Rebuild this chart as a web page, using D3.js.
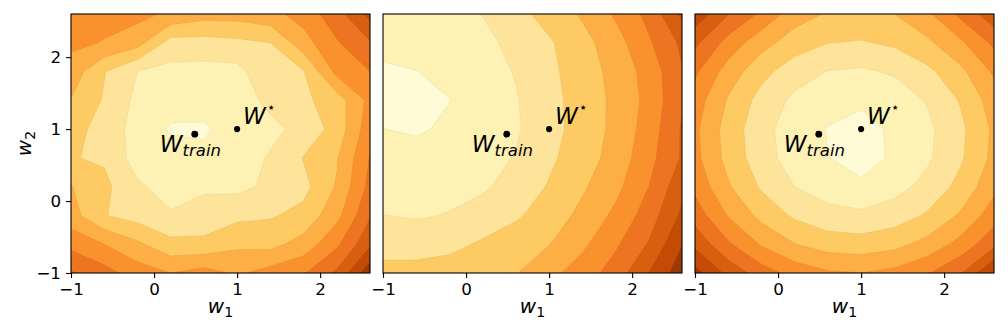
<!DOCTYPE html>
<html>
<head>
<meta charset="utf-8">
<script src="https://cdn.jsdelivr.net/npm/d3@7"></script>
<style>
body { margin: 0; background: #fff; }
text { font-family: "DejaVu Sans", sans-serif; }
</style>
</head>
<body>
<div id="chart"></div>
<script>
var width = 1008, height = 335;

// sample grid (rows run from top y=2.6 down to y=-1)
var xGrid = [-1, -0.6, -0.2, 0.2, 0.6, 1.0, 1.4, 1.8, 2.2, 2.6];
var yGrid = [2.6, 2.2, 1.8, 1.4, 1.0, 0.6, 0.2, -0.2, -0.6, -1.0];

// loss surface, left panel
var lossLeft = [
  [5.6, 5.3, 5.3, 4.8, 4.4, 4.4, 4.7, 5.4, 6.6, 8.3],
  [5.2, 4.95, 4.4, 2.6, 2.6, 2.75, 3.0, 4.6, 5.9, 6.9],
  [4.6, 3.05, 2.0, 1.7, 1.65, 1.7, 2.75, 2.95, 5.3, 6.0],
  [3.95, 2.9, 1.75, 1.3, 1.45, 1.55, 2.24, 2.8, 3.5, 5.3],
  [3.2, 2.8, 1.5, 0.92, 0.85, 1.48, 1.75, 2.3, 3.4, 5.6],
  [3.05, 2.87, 1.55, 1.35, 1.25, 1.45, 2.1, 3.05, 3.9, 6.05],
  [4.05, 3.25, 2.15, 1.6, 1.85, 1.75, 2.2, 2.7, 4.1, 6.3],
  [4.4, 3.05, 2.6, 2.1, 2.4, 2.75, 2.9, 3.3, 4.7, 6.9],
  [5.7, 5.0, 4.2, 3.3, 3.25, 3.8, 3.7, 4.4, 5.8, 7.8],
  [7.1, 6.4, 5.5, 5.0, 5.4, 4.85, 5.4, 5.9, 7.2, 9.7]
];

// loss surface, middle panel
var lossMid = [
  [1.5, 1.6, 1.75, 2.02, 2.68, 3.38, 4.13, 5.14, 6.29, 8.2],
  [1.3, 1.4, 1.55, 1.8, 2.22, 2.88, 3.65, 4.58, 5.86, 7.2],
  [0.85, 0.98, 1.3, 1.67, 2.05, 2.77, 3.5, 4.32, 5.4, 6.93],
  [0.7, 0.8, 0.98, 1.46, 1.93, 2.67, 3.43, 4.22, 5.29, 6.9],
  [1.02, 0.85, 1.2, 1.5, 1.88, 2.65, 3.4, 4.25, 5.45, 7.1],
  [1.4, 1.45, 1.6, 1.75, 2.04, 2.81, 3.54, 4.38, 5.68, 7.1],
  [1.55, 1.6, 1.72, 1.85, 2.41, 3.08, 3.86, 4.72, 6.0, 7.7],
  [2.02, 1.9, 2.05, 2.45, 2.86, 3.47, 4.26, 5.22, 6.48, 8.2],
  [2.69, 2.63, 2.75, 3.13, 3.55, 3.97, 4.8, 5.84, 7.08, 8.95],
  [3.25, 3.3, 3.45, 3.65, 3.95, 4.71, 5.48, 6.46, 8.0, 9.6]
];

// loss surface, right panel
var lossRight = [
  [8.66, 7.05, 5.80, 4.45, 3.9, 3.85, 4.0, 4.8, 6.26, 7.65],
  [7.23, 5.62, 4.37, 3.51, 3.02, 2.91, 3.17, 3.81, 4.83, 6.22],
  [6.18, 4.56, 3.32, 2.45, 1.97, 1.85, 2.12, 2.76, 3.77, 5.16],
  [5.50, 3.89, 2.64, 1.78, 1.30, 1.10, 1.44, 2.08, 3.09, 4.49],
  [5.20, 3.58, 2.34, 1.48, 0.96, 0.80, 1.10, 1.78, 2.79, 4.19],
  [5.28, 3.66, 2.42, 1.55, 1.02, 0.75, 1.10, 1.85, 2.87, 4.26],
  [5.73, 4.11, 2.87, 2.00, 1.51, 1.12, 1.66, 2.30, 3.32, 4.71],
  [6.56, 4.94, 3.70, 2.83, 2.34, 2.23, 2.49, 3.13, 4.15, 5.54],
  [7.76, 6.14, 4.90, 4.03, 3.55, 3.43, 3.70, 4.34, 5.35, 6.74],
  [9.34, 7.72, 6.48, 5.62, 5.13, 5.01, 5.28, 5.92, 6.93, 9.1]
];

var levels = [0, 1, 2, 3, 4, 5, 6, 7, 8, 9];
var levelColors = ["#fffbd6", "#fef1b4", "#fee39a", "#fdca64", "#fdae45",
                   "#f9922d", "#ed7522", "#d95f10", "#c44b05", "#9c3a06"];

var xTicks = [-1, 0, 1, 2];
var yTicks = [-1, 0, 1, 2];
var wTrain = [0.49, 0.93];
var wStar = [1.0, 1.0];
var trainLabelAt = [0.07, 0.68];
var starLabelAt = [1.07, 1.065];

var panelLefts = [71, 383, 695];
var panelW = 299, panelTop = 14, panelBottom = 273;

function fmt(d) {
    return d < 0 ? "\u2212" + Math.abs(d) : "" + d;
}

var svg = d3.select("#chart").append("svg")
    .attr("width", width)
    .attr("height", height);

svg.append("rect")
    .attr("width", width)
    .attr("height", height)
    .attr("fill", "white");

var grids = [lossLeft, lossMid, lossRight];

grids.forEach(function(grid, p) {
    var left = panelLefts[p];
    var x = d3.scaleLinear().domain([-1, 2.6]).range([left, left + panelW]);
    var y = d3.scaleLinear().domain([-1, 2.6]).range([panelBottom, panelTop]);

    var stepX = xGrid[1] - xGrid[0], stepY = yGrid[1] - yGrid[0];
    var proj = d3.geoTransform({
        point: function(cx, cy) {
            this.stream.point(x(xGrid[0] + (cx - 0.5) * stepX), y(yGrid[0] + (cy - 0.5) * stepY));
        }
    });
    var path = d3.geoPath(proj);

    var contours = d3.contours()
        .size([xGrid.length, yGrid.length])
        .thresholds(levels)(d3.merge(grid));

    var clipId = "clip" + p;
    svg.append("clipPath").attr("id", clipId)
      .append("rect")
        .attr("x", left).attr("y", panelTop)
        .attr("width", panelW).attr("height", panelBottom - panelTop);

    var g = svg.append("g").attr("clip-path", "url(#" + clipId + ")");

    g.selectAll("path")
        .data(contours)
        .enter().append("path")
        .attr("d", path)
        .attr("fill", function(d, i) { return levelColors[i]; })
        .attr("stroke", function(d, i) { return d3.color(levelColors[i]).darker(0.25); })
        .attr("stroke-width", 0.6)
        .attr("stroke-opacity", 0.7);

    // the two weight points
    svg.append("circle")
        .attr("cx", x(wTrain[0])).attr("cy", y(wTrain[1]))
        .attr("r", 3.4).attr("fill", "black");
    svg.append("circle")
        .attr("cx", x(wStar[0])).attr("cy", y(wStar[1]))
        .attr("r", 3.1).attr("fill", "black");

    var t1 = svg.append("text")
        .attr("x", x(trainLabelAt[0])).attr("y", y(trainLabelAt[1]))
        .style("font-size", "23px");
    t1.append("tspan").style("font-style", "italic").text("W");
    t1.append("tspan").style("font-style", "italic").style("font-size", "16.5px")
        .attr("dy", 4).text("train");

    var t2 = svg.append("text")
        .attr("x", x(starLabelAt[0])).attr("y", y(starLabelAt[1]))
        .style("font-size", "23px");
    t2.append("tspan").style("font-style", "italic").text("W");
    t2.append("tspan").style("font-size", "14px").attr("dx", 1).attr("dy", -12).text("\u22c6");

    // frame
    svg.append("rect")
        .attr("x", left).attr("y", panelTop)
        .attr("width", panelW).attr("height", panelBottom - panelTop)
        .attr("fill", "none").attr("stroke", "black").attr("stroke-width", 1.1);

    var xAxis = d3.axisBottom(x).tickValues(xTicks).tickSize(5).tickPadding(5).tickFormat(fmt);
    var gx = svg.append("g")
        .attr("transform", "translate(0," + panelBottom + ")")
        .call(xAxis);
    gx.select(".domain").remove();
    gx.selectAll("text").style("font-size", "16.7px").style("font-family", "DejaVu Sans").attr("fill", "black");
    gx.selectAll("line").attr("stroke", "black").attr("stroke-width", 1.1);

    var xl = svg.append("text")
        .attr("x", (x.range()[0] + x.range()[1]) / 2)
        .attr("y", 313)
        .attr("text-anchor", "middle")
        .style("font-size", "20px");
    xl.append("tspan").style("font-style", "italic").text("w");
    xl.append("tspan").style("font-size", "14px").attr("dy", 4).text("1");

    if (p == 0) {
        var yAxis = d3.axisLeft(y).tickValues(yTicks).tickSize(5).tickPadding(5).tickFormat(fmt);
        var gy = svg.append("g")
            .attr("transform", "translate(" + left + ",0)")
            .call(yAxis);
        gy.select(".domain").remove();
        gy.selectAll("text").style("font-size", "16.7px").style("font-family", "DejaVu Sans").attr("fill", "black");
        gy.selectAll("line").attr("stroke", "black").attr("stroke-width", 1.1);

        var yl = svg.append("text")
            .attr("transform", "translate(31," + ((panelTop + panelBottom) / 2) + ") rotate(-90)")
            .attr("text-anchor", "middle")
            .style("font-size", "20px");
        yl.append("tspan").style("font-style", "italic").text("w");
        yl.append("tspan").style("font-size", "14px").attr("dy", 4).text("2");
    }
});
</script>
</body>
</html>
